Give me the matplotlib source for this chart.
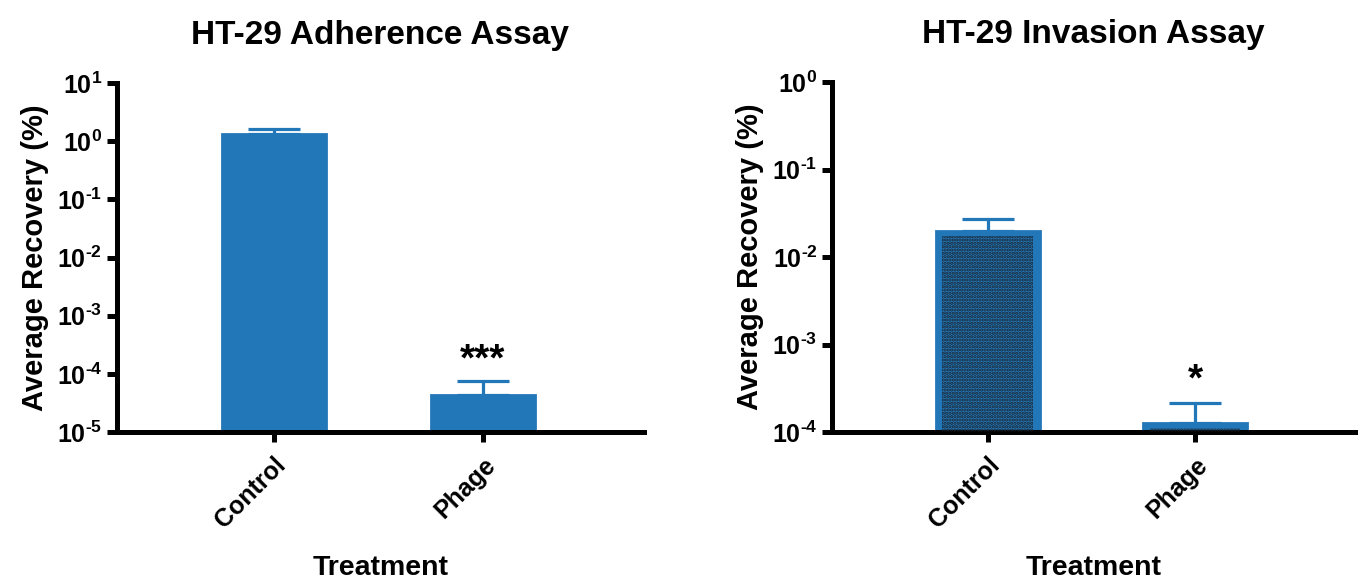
import numpy as np
import matplotlib
matplotlib.use('Agg')
import matplotlib.pyplot as plt
from matplotlib.ticker import FixedLocator, NullLocator

plt.rcParams['font.family'] = ['Liberation Sans', 'DejaVu Sans']
plt.rcParams['font.weight'] = 'bold'
plt.rcParams['mathtext.fontset'] = 'custom'
plt.rcParams['mathtext.rm'] = 'Liberation Sans:bold'
plt.rcParams['mathtext.bf'] = 'Liberation Sans:bold'
plt.rcParams['mathtext.default'] = 'bf'
plt.rcParams['hatch.linewidth'] = 1.6

# data
groups = ['Control', 'Phage']
adh_mean = np.array([1.32, 4.4e-5])
adh_err = np.array([0.28, 3.0e-5])
inv_mean = np.array([0.0196, 1.27e-4])
inv_err = np.array([0.0074, 0.87e-4])
adh_stars = ['', '***']
inv_stars = ['', '*']
adh_exp = [-5, -4, -3, -2, -1, 0, 1]
inv_exp = [-4, -3, -2, -1, 0]

blue = '#2277b8'

fig = plt.figure(figsize=(13.63, 5.82), dpi=100)
ax1 = fig.add_axes([0.0858, 0.2577, 0.3867, 0.5997])
ax2 = fig.add_axes([0.6104, 0.2577, 0.3837, 0.6014])


def exp_label(e):
    if e < 0:
        return r'$10^{\text{-}%d}$' % abs(e)
    return r'$10^{%d}$' % e


def panel(ax, means, errs, stars, exps, title, hatched):
    lo, hi = 10.0 ** exps[0], 10.0 ** exps[-1]
    x = np.arange(len(groups))
    ax.set_yscale('log')
    ax.bar(x, means - lo, bottom=lo, width=0.5, color=blue, edgecolor=blue,
           linewidth=2, zorder=2)
    if hatched:
        ax.bar(x, means * 0.88 - lo, bottom=lo, width=0.435, color='none',
               edgecolor='#1a222c', linewidth=0, hatch='.....', zorder=3)
    ax.errorbar(x, means, yerr=[np.zeros_like(errs), errs], fmt='none',
                ecolor=blue, elinewidth=2.3, capsize=19, capthick=2.3, zorder=1)
    for xi, m, e, s in zip(x, means, errs, stars):
        if s:
            ax.text(xi, (m + e) * 1.12, s, ha='center', va='bottom',
                    fontsize=28, fontweight='bold')
    ax.set_ylim(lo, hi)
    ax.set_xlim(-0.75, 1.77)
    ax.yaxis.set_major_locator(FixedLocator([10.0 ** e for e in exps]))
    ax.yaxis.set_minor_locator(NullLocator())
    ax.set_yticklabels([exp_label(e) for e in exps])
    ax.set_xticks(x)
    ax.set_xticklabels(groups, rotation=45, ha='right', rotation_mode='anchor',
                       fontsize=18.5, fontweight='bold')
    for sp in ['top', 'right']:
        ax.spines[sp].set_visible(False)
    for sp in ['left', 'bottom']:
        ax.spines[sp].set_linewidth(3.6)
    ax.tick_params(axis='both', width=3.6, length=7, labelsize=18)
    ax.tick_params(axis='x', pad=8)
    ax.set_ylabel('Average Recovery (%)', fontsize=21, fontweight='bold',
                  labelpad=6)
    ax.set_xlabel('Treatment', fontsize=20.5, fontweight='bold', labelpad=16)
    ax.set_title(title, fontsize=24, fontweight='bold', pad=28)


panel(ax1, adh_mean, adh_err, adh_stars, adh_exp, 'HT-29 Adherence Assay', False)
panel(ax2, inv_mean, inv_err, inv_stars, inv_exp, 'HT-29 Invasion Assay', True)

fig.savefig('out.png', dpi=100)
